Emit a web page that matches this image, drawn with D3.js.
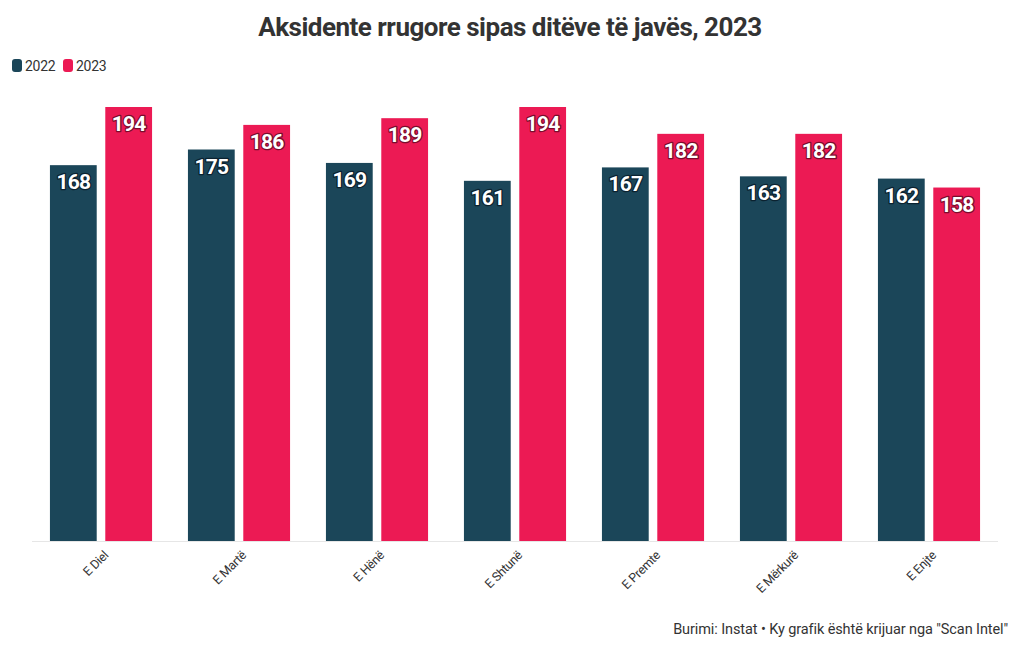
<!DOCTYPE html>
<html><head><meta charset="utf-8">
<script src="https://cdn.jsdelivr.net/npm/d3@7"></script>
<style>
body{margin:0;background:#fff;}
text{font-family:Roboto,"Noto Sans",sans-serif;}
</style></head><body>
<svg id="c" width="1020" height="650"></svg>
<script>
const categories = ["E Diel","E Martë","E Hënë","E Shtunë","E Premte","E Mërkurë","E Enjte"];
const seriesNames = ["2022","2023"];
const values2022 = [168,175,169,161,167,163,162];
const values2023 = [194,186,189,194,182,182,158];
const colors = ["#1b4659","#ec1a54"];
const outlineColors = ["#0b2230","#7a0c2c"];

const svg = d3.select("#c");
const W=1020,H=650;
const margin={left:32,right:22,top:106,bottom:109};
const x0 = d3.scaleBand().domain(categories).range([margin.left, W-margin.right]).paddingInner(0.26).paddingOuter(0.13);
const x1 = d3.scaleBand().domain(seriesNames).range([0, x0.bandwidth()]).paddingInner(0.155);
const y = d3.scaleLinear().domain([0,194]).range([H-margin.bottom, margin.top+1]);

// title
svg.append("text").attr("x",510).attr("y",36).attr("text-anchor","middle")
  .attr("font-size",26).attr("font-weight",700).attr("fill","#333").attr("letter-spacing","-0.5")
  .text("Aksidente rrugore sipas ditëve të javës, 2023");

// legend
const leg = svg.append("g");
let lx=12;
seriesNames.forEach((s,i)=>{
  leg.append("rect").attr("x",lx).attr("y",59).attr("width",10).attr("height",13).attr("rx",3).attr("fill",colors[i]);
  leg.append("text").attr("x",lx+13).attr("y",71).attr("font-size",14).attr("fill","#333").attr("letter-spacing","-0.3").text(s);
  lx += 51;
});

// baseline
svg.append("line").attr("x1",margin.left).attr("x2",W-margin.right).attr("y1",y(0)+0.5).attr("y2",y(0)+0.5).attr("stroke","#e6e6e6").attr("stroke-width",1);

const data = categories.map((c,i)=>({cat:c, vals:[values2022[i],values2023[i]]}));
const g = svg.append("g");
data.forEach(d=>{
  d.vals.forEach((v,j)=>{
    const bx = x0(d.cat)+x1(seriesNames[j]);
    g.append("rect").attr("x",bx).attr("y",y(v)).attr("width",x1.bandwidth()).attr("height",y(0)-y(v)).attr("fill",colors[j]);
    g.append("text").attr("x",bx+x1.bandwidth()/2).attr("y",y(v)+24)
      .attr("text-anchor","middle").attr("font-size",21).attr("font-weight",700)
      .attr("letter-spacing","-0.8")
      .attr("fill","#fff").attr("stroke",outlineColors[j]).attr("stroke-width",2.5)
      .attr("paint-order","stroke").attr("stroke-linejoin","round").text(v);
  });
});

// x axis labels
const xa = svg.append("g").attr("transform",`translate(0,${y(0)})`)
  .call(d3.axisBottom(x0).tickSize(0).tickPadding(0));
xa.select(".domain").remove();
xa.selectAll("text").attr("font-size",12.5).attr("fill","#333").attr("text-anchor","end")
  .attr("font-family","Roboto,sans-serif").attr("letter-spacing","-0.3")
  .attr("transform","translate(5,12) rotate(-45)").attr("dy","0.35em");

// footer
svg.append("text").attr("x",1008).attr("y",634).attr("text-anchor","end").attr("font-size",14.5)
  .attr("fill","#333").attr("letter-spacing","-0.1")
  .text('Burimi: Instat • Ky grafik është krijuar nga "Scan Intel"');
</script></body></html>
